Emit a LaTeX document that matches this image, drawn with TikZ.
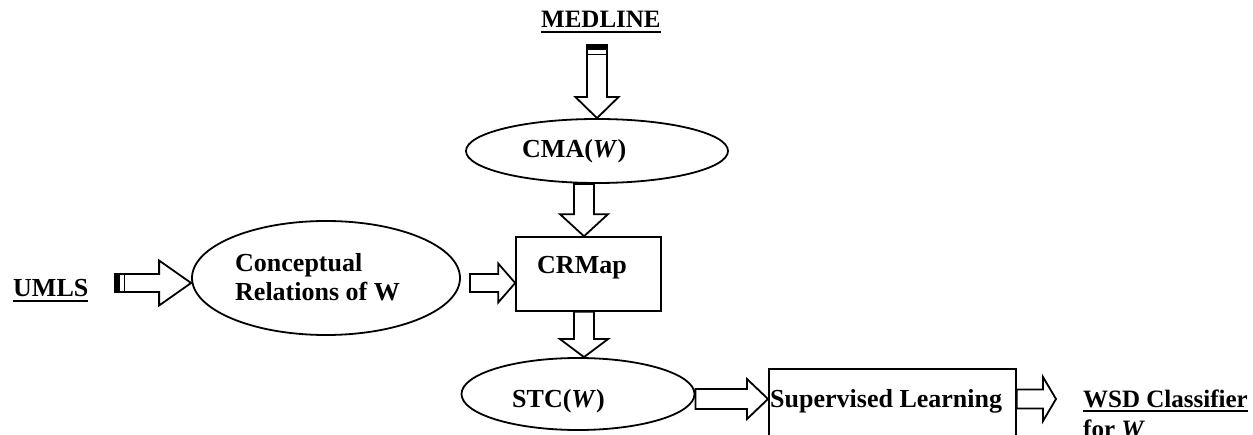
\documentclass[tikz,border=0pt]{standalone}
\usepackage{fontspec}
\setmainfont{Liberation Serif}
\usetikzlibrary{calc,shapes.geometric}

\newcommand\ulbox[1]{\vtop{\hbox{#1}\kern3pt\hrule height 1.8pt}}

% hollow block arrow: from, to, half shaft, half head, head length
\newcommand\blockarrow[5]{%
  \coordinate (hb) at ($(#2)!#5!(#1)$);
  \draw[blk] ($(#1)!#3!90:(#2)$) -- ($(hb)!#3!90:(#2)$) -- ($(hb)!#4!90:(#2)$) -- (#2)
    -- ($(hb)!#4!-90:(#2)$) -- ($(hb)!#3!-90:(#2)$) -- ($(#1)!#3!-90:(#2)$) -- cycle;
}
% striped tail: from, to, half shaft
\newcommand\arrowtail[3]{%
  \coordinate (ta) at ($(#1)!5pt!(#2)$);
  \fill ($(#1)!#3!90:(#2)$) -- ($(ta)!#3!-90:(#1)$) -- ($(ta)!#3!90:(#1)$) -- ($(#1)!#3!-90:(#2)$) -- cycle;
  \coordinate (tb) at ($(#1)!9.5pt!(#2)$);
  \draw[line width=1.8pt] ($(tb)!#3!90:(#2)$) -- ($(tb)!#3!-90:(#2)$);
}

\begin{document}
\begin{tikzpicture}[x=1pt,y=-1pt,
  every node/.style={font=\fontsize{26}{30}\selectfont\bfseries, inner sep=0pt},
  mid/.style={font=\fontsize{25}{29}\selectfont\bfseries},
  blk/.style={draw, fill=white, line width=1.8pt, line join=miter},
  ell/.style={draw, ellipse, line width=1.8pt, inner sep=0pt},
  box/.style={draw, rectangle, line width=1.6pt},
  lbl/.style={anchor=base west}]
\useasboundingbox (0,0) rectangle (1253,435);
\clip (0,0) rectangle (1253,435);

% nodes
\node[lbl, mid] (medline) at (541,28) {\ulbox{MEDLINE}};
\node[ell, minimum width=262pt, minimum height=64pt] (cma) at (597,151) {};
\node[lbl] (cmatext) at (522,158) {CMA(\textit{W})};
\node[box, minimum width=145pt, minimum height=74pt] (crmap) at (588.5,274) {};
\node[lbl] (crmaptext) at (537,274) {CRMap};
\node[ell, minimum width=268pt, minimum height=114pt] (concept) at (326,278) {};
\node[lbl] (ctext1) at (235,272) {Conceptual};
\node[lbl] (ctext2) at (235,301) {Relations of W};
\node[lbl] (umls) at (13,297) {\ulbox{UMLS}};
\node[ell, minimum width=233pt, minimum height=72pt] (stc) at (578,394) {};
\node[lbl] (stctext) at (512,408) {STC(\textit{W})};
\node[box, minimum width=247pt, minimum height=110pt, anchor=north west] (sup) at (768,368) {};
\node[lbl] (suptext) at (770,407) {Supervised Learning};
\node[lbl, mid] (wsd) at (1083,407) {\ulbox{WSD Classifier}};
\node[lbl, mid] (forw) at (1083,437) {for \textit{W}};

% MEDLINE -> CMA
\coordinate (a1s) at (597,45);
\blockarrow{a1s}{cma.north}{10pt}{21.5pt}{21pt}
\arrowtail{a1s}{cma.north}{10pt}

% CMA -> CRMap
\coordinate (a2e) at ($(crmap.north)+(-4.5,0)$);
\coordinate (a2s) at (a2e |- cma.south);
\blockarrow{a2s}{a2e}{10pt}{24pt}{22pt}

% CRMap -> STC
\coordinate (a3s) at ($(crmap.south)+(-4.5,0)$);
\coordinate (a3e) at (a3s |- stc.north);
\blockarrow{a3s}{a3e}{10pt}{24pt}{18pt}

% Conceptual -> CRMap
\coordinate (a4s) at (470,283);
\coordinate (a4e) at (a4s -| crmap.west);
\blockarrow{a4s}{a4e}{9pt}{19.5pt}{17pt}

% UMLS -> Conceptual
\coordinate (a5s) at (115,283);
\coordinate (a5e) at (a5s -| concept.west);
\blockarrow{a5s}{a5e}{9pt}{22.5pt}{32pt}
\arrowtail{a5s}{a5e}{9pt}

% STC -> Supervised Learning
\coordinate (a6s) at ($(stc.east)+(0,5)$);
\coordinate (a6e) at (a6s -| sup.west);
\blockarrow{a6s}{a6e}{10pt}{20pt}{21pt}

% Supervised Learning -> WSD Classifier
\coordinate (a7s) at (a6s -| sup.east);
\coordinate (a7e) at (1056,399);
\blockarrow{a7s}{a7e}{9.5pt}{22pt}{13pt}
\end{tikzpicture}
\end{document}
